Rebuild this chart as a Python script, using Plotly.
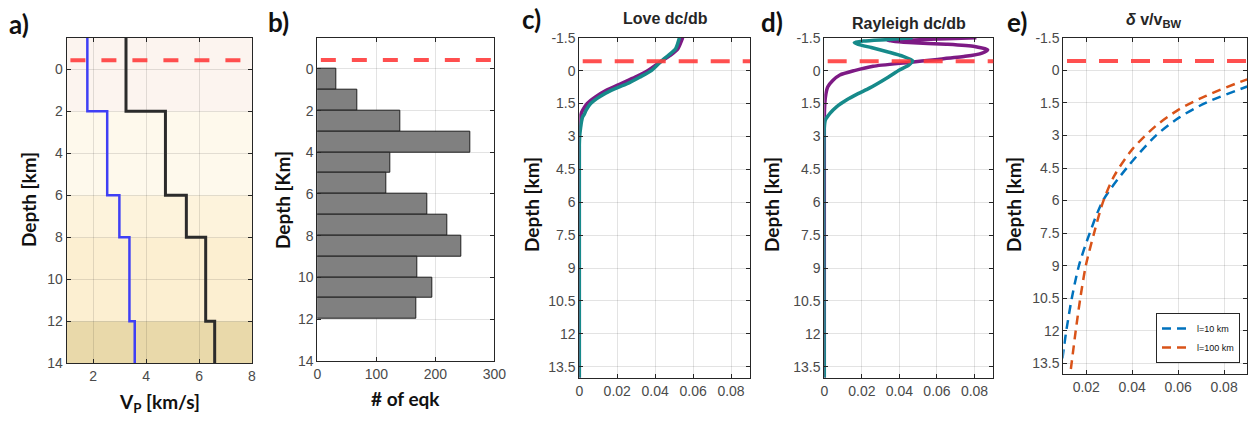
import plotly.graph_objects as go
from plotly.subplots import make_subplots

# ---------------- data ----------------
SEA_LEVEL = -0.43  # km (red dashed line)

# panel a: layered velocity model
LAYER_TOP = [-1.5, 2, 6, 8, 12]
LAYER_BOTTOM = [2, 6, 8, 12, 14]
VS = [1.78, 2.53, 2.99, 3.37, 3.57]
VP = [3.24, 4.73, 5.52, 6.25, 6.59]
BAND_COLORS = ["#fcf4ef", "#fef9ec", "#fdf3dc", "#fcefd1", "#e9d9aa"]

# panel b: earthquake depth histogram (1 km bins)
BIN_LOW = [0, 1, 2, 3, 4, 5, 6, 7, 8, 9, 10, 11]
EQK_COUNTS = [32, 67, 141, 260, 124, 117, 186, 220, 244, 170, 195, 167]

# panel c: Love dc/db
LOVE_DEPTH_P = [-1.5, -1.0, -0.7, -0.4, 0.0, 0.3, 0.6, 0.9, 1.2, 1.5, 1.8, 2.0, 2.3, 2.6, 3.5, 14]
LOVE_P = [0.0545, 0.052, 0.048, 0.0428, 0.0362, 0.0295, 0.0218, 0.0142, 0.0085, 0.0042, 0.0018, 0.0008, 0.0002, 0.0, 0.0, 0.0]
LOVE_DEPTH_T = [-1.5, -1.0, -0.7, -0.4, 0.0, 0.3, 0.6, 0.9, 1.2, 1.5, 1.8, 2.0, 2.1, 2.3, 2.6, 3.0, 3.5, 14]
LOVE_T = [0.0528, 0.0508, 0.047, 0.0428, 0.038, 0.0318, 0.0252, 0.0168, 0.0105, 0.006, 0.0036, 0.0026, 0.0018, 0.0012, 0.0007, 0.0002, 0.0, 0.0]

# panel d: Rayleigh dc/db
RAY_DEPTH_P = [-1.5, -1.45, -1.4, -1.35, -1.28, -1.2, -1.1, -0.95, -0.8, -0.65, -0.5, -0.37, -0.2, 0.0, 0.2, 0.45, 0.75, 1.2, 1.8, 2.5, 14]
RAY_P = [0.081, 0.065, 0.048, 0.034, 0.045, 0.065, 0.080, 0.087, 0.084, 0.075, 0.059, 0.045, 0.026, 0.016, 0.0083, 0.0045, 0.0018, 0.0006, 0.0001, 0.0, 0.0]
RAY_DEPTH_T = [-1.5, -1.42, -1.35, -1.28, -1.2, -1.05, -0.85, -0.65, -0.45, -0.25, -0.03, 0.3, 0.8, 1.05, 1.34, 1.65, 1.95, 2.25, 2.6, 14]
RAY_T = [0.047, 0.034, 0.021, 0.016, 0.018, 0.025, 0.034, 0.042, 0.047, 0.045, 0.040, 0.034, 0.024, 0.018, 0.0118, 0.0065, 0.0030, 0.0006, 0.0, 0.0]

# panel e: delta v / v_BW
DV_DEPTH_10 = [0.5, 0.76, 1.5, 2.18, 3.01, 4.5, 6.0, 7.5, 9.0, 10.5, 12.0, 12.74, 13.3]
DV_10 = [0.097, 0.0898, 0.0720, 0.0604, 0.0503, 0.0376, 0.0273, 0.0215, 0.0168, 0.0137, 0.0113, 0.0103, 0.0096]
DV_DEPTH_100 = [0.2, 0.43, 1.19, 1.80, 2.56, 3.62, 4.84, 6.0, 7.5, 9.0, 10.5, 12.0, 13.5, 14.0]
DV_100 = [0.097, 0.0898, 0.0719, 0.0604, 0.0503, 0.0402, 0.0323, 0.0275, 0.0234, 0.0198, 0.0174, 0.0154, 0.0136, 0.0130]

# ---------------- figure ----------------
W, H = 1248, 421
fig = make_subplots(rows=1, cols=5)

def px_x(a, b):
    return [a / W, b / W]

def px_y(top, bottom):
    return [1 - bottom / H, 1 - top / H]

DOMX = [px_x(66.7, 252), px_x(317.3, 494.3), px_x(579.3, 750), px_x(824.3, 993.3), px_x(1063.3, 1247)]
DOMY = [px_y(37.7, 363.3), px_y(37.7, 360.7), px_y(37.7, 377.7), px_y(37.7, 377.7), px_y(37.7, 374.3)]

TICKFONT = dict(family="Liberation Sans, Arial", size=14, color="#4a4a4a")
TITLEFONT = dict(family="Lato, Calibri, sans-serif", size=19, color="#111111")

# panel a background bands
for top, bot, col in zip(LAYER_TOP, LAYER_BOTTOM, BAND_COLORS):
    fig.add_shape(type="rect", xref="x", yref="y", x0=1, x1=8, y0=top, y1=bot,
                  fillcolor=col, line_width=0, layer="below")

def step(vals):
    xs, ys = [], []
    for v, t, b in zip(vals, LAYER_TOP, LAYER_BOTTOM):
        xs += [v, v]
        ys += [t, b]
    return xs, ys

sx, sy = step(VS)
px_, py_ = step(VP)
fig.add_trace(go.Scatter(x=sx, y=sy, mode="lines", line=dict(color="#3f3ff5", width=2.5), showlegend=False), 1, 1)
fig.add_trace(go.Scatter(x=px_, y=py_, mode="lines", line=dict(color="#2b2b2b", width=3), showlegend=False), 1, 1)

# panel b histogram
fig.add_trace(go.Bar(x=EQK_COUNTS, y=[b + 0.5 for b in BIN_LOW], orientation="h", width=1,
                     marker=dict(color="#808080", line=dict(color="#1e1e1e", width=1)),
                     showlegend=False), 1, 2)

PURPLE = "#7d1a84"
TEAL = "#168a8a"
fig.add_trace(go.Scatter(x=LOVE_P, y=LOVE_DEPTH_P, mode="lines", line=dict(color=PURPLE, width=3.5, shape="spline", smoothing=0.6), showlegend=False), 1, 3)
fig.add_trace(go.Scatter(x=LOVE_T, y=LOVE_DEPTH_T, mode="lines", line=dict(color=TEAL, width=3.5, shape="spline", smoothing=0.6), showlegend=False), 1, 3)
fig.add_trace(go.Scatter(x=RAY_P, y=RAY_DEPTH_P, mode="lines", line=dict(color=PURPLE, width=3.5, shape="spline", smoothing=0.6), showlegend=False), 1, 4)
fig.add_trace(go.Scatter(x=RAY_T, y=RAY_DEPTH_T, mode="lines", line=dict(color=TEAL, width=3.5, shape="spline", smoothing=0.6), showlegend=False), 1, 4)

fig.add_trace(go.Scatter(x=DV_10, y=DV_DEPTH_10, mode="lines", name="l=10 km",
                         line=dict(color="#0072BD", width=2.5, dash="9px,6px", shape="spline", smoothing=0.8)), 1, 5)
fig.add_trace(go.Scatter(x=DV_100, y=DV_DEPTH_100, mode="lines", name="l=100 km",
                         line=dict(color="#D95319", width=2.5, dash="9px,6px", shape="spline", smoothing=0.8)), 1, 5)

# red dashed sea level lines
for i in range(5):
    xr = "x domain" if i == 0 else f"x{i+1} domain"
    yr = "y" if i == 0 else f"y{i+1}"
    dash = "15px,16px" if i < 2 else "19px,13px"
    fig.add_shape(type="line", xref=xr, yref=yr, x0=0.02, x1=1, y0=SEA_LEVEL, y1=SEA_LEVEL,
                  line=dict(color="rgba(255,60,60,0.9)", width=4, dash=dash), layer="above")

common = dict(showline=True, linecolor="#262626", linewidth=1, mirror="ticks", ticks="inside",
              ticklen=4, tickcolor="#262626", showgrid=True, gridcolor="rgba(0,0,0,0.11)",
              zeroline=False, tickfont=TICKFONT, automargin=False)

depth_ticks_a = [0, 2, 4, 6, 8, 10, 12, 14]
depth_ticks_c = [-1.5, 0, 1.5, 3, 4.5, 6, 7.5, 9, 10.5, 12, 13.5]
depth_text_c = ["-1.5", "0", "1.5", "3", "4.5", "6", "7.5", "9", "10.5", "12", "13.5"]

layout = {}
for i in range(5):
    xk = "xaxis" if i == 0 else f"xaxis{i+1}"
    yk = "yaxis" if i == 0 else f"yaxis{i+1}"
    layout[xk] = dict(domain=DOMX[i], **common)
    layout[yk] = dict(domain=DOMY[i], **common)

layout["xaxis"].update(range=[1, 8], tickvals=[2, 4, 6, 8], ticktext=["2", "4", "6", "8"])
layout["yaxis"].update(range=[14, -1.5], tickvals=depth_ticks_a, ticktext=[str(v) for v in depth_ticks_a])
layout["xaxis2"].update(range=[0, 300], tickvals=[0, 100, 200, 300], ticktext=["0", "100", "200", "300"])
layout["yaxis2"].update(range=[14, -1.5], tickvals=depth_ticks_a, ticktext=[str(v) for v in depth_ticks_a])
for k in ["xaxis3", "xaxis4"]:
    layout[k].update(range=[0, 0.09], tickvals=[0, 0.02, 0.04, 0.06, 0.08], ticktext=["0", "0.02", "0.04", "0.06", "0.08"])
for k in ["yaxis3", "yaxis4"]:
    layout[k].update(range=[14, -1.5], tickvals=depth_ticks_c, ticktext=depth_text_c)
layout["xaxis5"].update(range=[0.01, 0.09], tickvals=[0.02, 0.04, 0.06, 0.08], ticktext=["0.02", "0.04", "0.06", "0.08"])
layout["yaxis5"].update(range=[14, -1.5], tickvals=depth_ticks_c, ticktext=depth_text_c)

fig.update_layout(**layout)

ann = []
def A(text, x, y, font, xanchor="center", angle=0):
    ann.append(dict(text=text, x=x / W, y=1 - y / H, xref="paper", yref="paper", showarrow=False,
                    xanchor=xanchor, yanchor="middle", font=font, textangle=angle))

LABELFONT = dict(family="Lato, Calibri, sans-serif", size=26, color="#111111")
for lab, x, y in [("a)", 7, 24), ("b)", 266, 22), ("c)", 520, 19), ("d)", 759, 22), ("e)", 1005, 22)]:
    A(f"<b>{lab}</b>", x, y, LABELFONT, xanchor="left")

for t, x, y in [("Depth [km]", 28, 200), ("Depth [Km]", 282, 200), ("Depth [km]", 531, 205),
                ("Depth [km]", 771, 205), ("Depth [km]", 1013, 205)]:
    A(f"<b>{t}</b>", x, y, TITLEFONT, angle=-90)

A("<b>V<sub>P</sub> [km/s]</b>", 159, 403, TITLEFONT)
A("<b># of eqk</b>", 405, 398, TITLEFONT)

SUBFONT = dict(family="Liberation Sans, Arial", size=16, color="#262626")
A("<b>Love dc/db</b>", 665, 18, SUBFONT)
A("<b>Rayleigh dc/db</b>", 909, 24, SUBFONT)
A("<b><i>δ</i> v/v<sub>BW</sub></b>", 1154, 20, SUBFONT)

fig.update_layout(
    width=W, height=H, margin=dict(l=0, r=0, t=0, b=0, autoexpand=False),
    paper_bgcolor="white", plot_bgcolor="white",
    annotations=ann, bargap=0,
    legend=dict(x=1240 / W, y=1 - 363 / H, xanchor="right", yanchor="bottom",
                bgcolor="white", bordercolor="#262626", borderwidth=1,
                font=dict(family="Liberation Sans, Arial", size=9, color="#111"),
                tracegroupgap=0, itemwidth=30),
)

fig.write_html("out.html", config={"displayModeBar": False},
               post_script="document.body.style.margin='0';document.body.style.padding='0';document.body.style.overflow='hidden';")
